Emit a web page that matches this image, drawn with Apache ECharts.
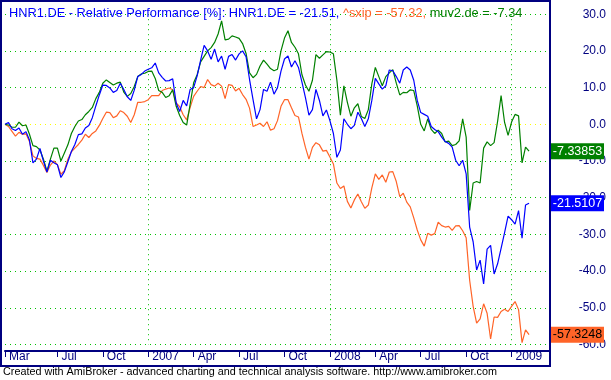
<!DOCTYPE html>
<html><head><meta charset="utf-8">
<script src="https://cdn.jsdelivr.net/npm/echarts@6/dist/echarts.min.js"></script>
<style>html,body{margin:0;padding:0;background:#fff}#c{width:611px;height:380px}</style>
</head><body><div id="c"></div>
<script>
// weekly bars, first bar and number of bar slots on the axis (incl. empty space at right)
const firstBar = '2006-03-24';
const barCount = 157;
const monthNames = ['Jan','Feb','Mar','Apr','May','Jun','Jul','Aug','Sep','Oct','Nov','Dec'];
const yMin = -60, yMax = 30, yStep = 10;

const hnr1 = [0, 0.5, -1.2, -1.7, -1.0, -2.7, -2.0, -4.3, -10.5, -9.5,
 -6.6, -10.0, -13.0, -9.8, -10.5, -11.0, -14.5, -12.9, -10.2, -7.4,
 -5.5, -2.8, -2.6, -1.0, -0.3, 1.8, 5.0, 8.0, 10.7, 10.6,
 9.9, 8.7, 9.2, 11.2, 9.5, 7.5, 6.5, 9.3, 13.0, 13.6,
 14.5, 15.0, 15.4, 16.7, 14.0, 12.8, 11.8, 11.9, 12.4, 5.8,
 3.5, 6.5, 5.0, 9.5, 10.0, 13.2, 17.5, 21.5, 20.0, 17.7,
 20.5, 17.0, 18.6, 15.0, 18.5, 19.0, 17.5, 19.2, 20.0, 18.4,
 12.2, 6.7, 1.5, 4.0, 9.5, 9.0, 11.5, 8.2, 10.0, 14.5,
 17.8, 18.6, 15.6, 17.3, 15.5, 11.5, 7.3, 2.5, 4.0, 9.5,
 6.5, 2.3, 3.9, 1.0, -2.5, -9.0, -7.0, 1.5, 0.0, -1.2,
 -0.3, 3.3, 1.6, -0.6, 1.5, 6.5, 12.5, 11.0, 9.6, 10.5,
 14.8, 14.6, 13.0, 11.2, 14.8, 15.6, 14.8, 12.0, 6.5, 3.2,
 2.7, 2.2, -0.6, -1.4, -2.0, -3.5, -4.7, -5.2, -6.2, -9.8,
 -11.3, -9.8, -13.5, -28.0, -32.0, -39.7, -37.0, -43.5, -34.0, -33.0,
 -40.8, -38.0, -33.8, -29.5, -25.0, -26.0, -27.2, -23.5, -31.0, -22.0,
 -21.5107];

const sxip = [0, -0.6, -1.9, -3.2, -2.2, -2.7, -2.6, -4.7, -8.6, -9.3,
 -9.5, -11.2, -13.1, -11.1, -10.0, -11.0, -13.6, -12.6, -9.5, -7.5,
 -6.5, -5.5, -4.3, -2.7, -3.6, -2.5, -1.8, -0.3, 1.6, 3.3,
 3.2, 1.8, 2.3, 3.7, 3.2, 2.2, 0.5, 2.6, 6.0, 6.0,
 6.2, 6.7, 7.8, 7.8, 7.8, 9.2, 9.6, 9.9, 9.4, 5.8,
 4.8, 2.6, 1.2, 4.6, 7.6, 9.0, 10.3, 10.0, 12.2, 10.8,
 10.4, 11.2, 10.4, 7.0, 10.8, 10.6, 9.1, 9.8, 8.1, 6.8,
 4.4, -0.6, -0.2, 0.3, -0.6, 0.7, -1.6, -1.2, 1.0, 4.9,
 6.7, 6.7, 4.5, 2.4, 2.0, -2.5, -6.3, -9.5, -6.3, -5.0,
 -5.6, -7.3, -7.1, -8.9, -10.8, -16.0, -17.5, -16.8, -21.0, -22.8,
 -20.6, -19.0, -21.1, -22.9, -22.0, -17.3, -13.5, -15.0, -13.8, -15.8,
 -13.0, -12.9, -15.6, -19.7, -18.8, -21.2, -22.5, -25.5, -28.8, -31.5,
 -33.2, -29.7, -30.2, -29.8, -26.7, -27.6, -28.0, -27.8, -28.9, -27.7,
 -27.6, -29.0, -30.9, -42.5, -49.6, -54.2, -53.0, -48.9, -51.5, -58.5,
 -52.5, -52.6, -51.0, -50.4, -51.0, -49.6, -48.3, -50.5, -59.5, -56.0,
 -57.3248];

const muv2 = [0, -0.2, -0.8, -0.8, 0.6, -0.4, -0.2, -2.7, -5.8, -6.1,
 -7.0, -9.5, -12.8, -9.5, -6.5, -6.5, -10.0, -7.8, -5.6, -2.5,
 -0.6, 0.9, 1.3, 2.6, 3.5, 4.6, 7.0, 8.7, 11.2, 12.1,
 11.4, 10.7, 11.2, 11.5, 8.8, 7.6, 8.4, 10.3, 13.0, 13.7,
 13.9, 14.4, 14.5, 12.5, 9.2, 8.7, 7.3, 7.8, 9.4, 4.9,
 2.4, 0.5, -0.2, 5.5, 11.3, 13.5, 17.0, 18.5, 20.0, 20.9,
 22.3, 24.6, 28.2, 23.0, 23.2, 24.1, 23.8, 23.4, 22.0, 19.3,
 14.0, 12.7, 13.6, 15.9, 17.5, 16.4, 15.2, 14.6, 15.0, 20.0,
 23.5, 25.5, 22.3, 21.0, 19.2, 13.5, 10.7, 9.0, 12.0, 19.0,
 18.0, 18.9, 19.8, 19.7, 19.2, 12.0, 2.5, 10.5, 6.0, 2.2,
 4.5, 5.6, 2.1, 1.6, 4.0, 11.0, 15.5, 13.0, 10.5, 13.0,
 14.0, 14.9, 11.2, 8.0, 8.7, 8.6, 9.4, 9.2, 5.0, 0.0,
 -1.8, 1.5, -1.4, -2.5, -1.6, -2.5, -4.8, -4.6, -5.8, -5.5,
 -4.5, 1.5, -3.5, -23.5, -16.0, -15.6, -16.0, -6.5, -4.8, -5.8,
 -5.0, 0.8, 7.8, 0.5, -3.0, 0.6, 2.7, 2.3, -10.5, -6.2,
 -7.33853];

const FONT = '"Liberation Sans", Arial, sans-serif';
const NAVY = '#000080';
const C_BLUE = '#0000ff', C_ORANGE = '#ff6428', C_GREEN = '#008000';
const GRID_GREEN = '#00c000', ZERO_YELLOW = '#ffff00';

const categories = [];
const t0 = Date.parse(firstBar + 'T00:00:00Z');
for (let i = 0; i < barCount; i++) {
  categories.push(new Date(t0 + i * 7 * 86400000).toISOString().slice(0, 10));
}
const monthOf = i => +categories[i].slice(5, 7) - 1;
const newMonth = i => i > 0 && monthOf(i) !== monthOf(i - 1);
// first bar is always labelled; quarter starts too close to it are skipped
const isMark = i => i === 0 || (i > 6 && newMonth(i) && monthOf(i) % 3 === 0);
const isYear = i => newMonth(i) && monthOf(i) === 0;

const last = a => a[a.length - 1];
const lastCat = categories[categories.length - 1];

// split line colours: yellow on the zero line
const splitColors = [];
for (let v = yMin; v <= yMax; v += yStep) splitColors.push(v === 0 ? ZERO_YELLOW : GRID_GREEN);

function priceBox(arr, bg, fg) {
  return {
    symbol: 'rect', symbolSize: [53, 16], symbolOffset: [27.5, 0], silent: true,
    itemStyle: { color: bg },
    label: { show: true, position: 'inside', color: fg, fontSize: 12.5, fontFamily: FONT,
      formatter: () => last(arr).toPrecision(6) },
    data: [{ coord: [lastCat, last(arr)] }]
  };
}

function lineSeries(name, arr, color, boxText) {
  return {
    name, type: 'line', data: arr, showSymbol: false, symbol: 'none',
    lineStyle: { color, width: 1.2 }, itemStyle: { color }, animation: false,
    markPoint: priceBox(arr, color, boxText)
  };
}

const chart = echarts.init(document.getElementById('c'), null, { renderer: 'canvas' });
chart.setOption({
  backgroundColor: '#fff',
  animation: false,
  title: {
    left: 4, top: 2,
    text: '{b|HNR1.DE - Relative Performance [%]: HNR1.DE = ' + last(hnr1).toFixed(2) + ', }' +
          '{o|^sxip = ' + last(sxip).toFixed(2) + ', }' +
          '{g|muv2.de = ' + last(muv2).toFixed(2) + '}',
    textStyle: { fontFamily: FONT, fontSize: 12.8, fontWeight: 'normal',
      rich: {
        b: { color: C_BLUE, fontFamily: FONT, fontSize: 12.8 },
        o: { color: C_ORANGE, fontFamily: FONT, fontSize: 12.8 },
        g: { color: C_GREEN, fontFamily: FONT, fontSize: 12.8 }
      } }
  },
  grid: { left: 5, right: 61, top: 14.2, bottom: 35.5, containLabel: false },
  xAxis: {
    type: 'category', data: categories, boundaryGap: false, offset: 6.5,
    axisLine: { onZero: false, lineStyle: { color: NAVY, width: 2 } },
    axisTick: { show: true, length: 6, interval: (i) => isMark(i), lineStyle: { color: NAVY, width: 1 } },
    axisLabel: { interval: (i) => isMark(i), align: 'left', margin: 0, padding: [0, 0, 0, 4],
      hideOverlap: false, showMinLabel: true,
      color: NAVY, fontSize: 12, fontFamily: FONT,
      formatter: (v) => { const m = +v.slice(5, 7) - 1; return m === 0 ? v.slice(0, 4) : monthNames[m]; } },
    splitLine: { show: true, interval: (i) => isYear(i), lineStyle: { color: GRID_GREEN, type: [1, 4], width: 1 } }
  },
  yAxis: {
    type: 'value', position: 'right', min: yMin, max: yMax, interval: yStep,
    axisLine: { show: false }, axisTick: { show: false },
    axisLabel: { align: 'right', margin: 56, color: NAVY, fontSize: 12, fontFamily: FONT,
      formatter: (v) => v.toFixed(1) },
    splitLine: { show: true, lineStyle: { color: splitColors, type: [1, 4], width: 1 } }
  },
  graphic: [
    { type: 'rect', silent: true, z: 100, shape: { x: 1, y: 1, width: 549, height: 365 },
      style: { fill: null, stroke: NAVY, lineWidth: 2 } },
    { type: 'text', silent: true, x: 3, y: 367,
      style: { text: 'Created with AmiBroker - advanced charting and technical analysis software. http://www.amibroker.com',
        font: '10.8px "Liberation Sans", Arial, sans-serif', fill: '#000' } }
  ],
  series: [
    lineSeries('^sxip', sxip, C_ORANGE, '#000'),
    lineSeries('muv2.de', muv2, C_GREEN, '#fff'),
    lineSeries('HNR1.DE', hnr1, C_BLUE, '#fff')
  ]
});
</script>
</body></html>
